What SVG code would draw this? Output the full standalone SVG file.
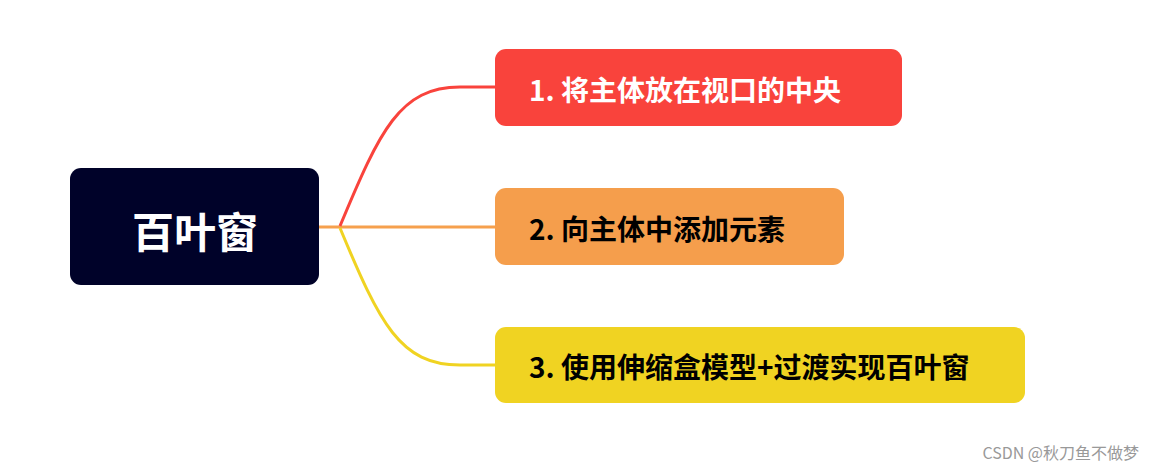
<svg xmlns="http://www.w3.org/2000/svg" width="1154" height="471" viewBox="0 0 1154 471">
<style>
.t{font-family:"Noto Sans CJK SC","Noto Sans",sans-serif;font-weight:bold;font-size:28px;dominant-baseline:central}
.c{fill:none;stroke-width:3}
</style>
<rect width="1154" height="471" fill="#fff"/>
<g id="connectors">
<path class="c" stroke="#F6A04D" d="M319,227 L495,227"/>
<path class="c" stroke="#F9433C" d="M340,226 C380,130 400,87 460,87 L495,87"/>
<path class="c" stroke="#F0D322" d="M340,228 C380,324 400,365 460,365 L495,365"/>
</g>
<g id="root"><rect x="70" y="168" width="249" height="117" rx="11" fill="#000229"/>
<text x="195" y="229" text-anchor="middle" class="t" style="font-size:42px" fill="#fff">百叶窗</text></g>
<g id="n1"><rect x="495" y="49" width="407" height="77" rx="11" fill="#F9433C"/>
<text x="529" y="89" class="t" fill="#fff">1. 将主体放在视口的中央</text></g>
<g id="n2"><rect x="495" y="188" width="349" height="77" rx="11" fill="#F59E4C"/>
<text x="529" y="228" class="t" fill="#000">2. 向主体中添加元素</text></g>
<g id="n3"><rect x="495" y="327" width="530" height="76" rx="11" fill="#F0D322"/>
<text x="529" y="366" class="t" fill="#000">3. 使用伸缩盒模型+过渡实现百叶窗</text></g>
<text x="1139" y="452" text-anchor="end" font-family="Noto Sans CJK SC,sans-serif" font-size="16" fill="#999" dominant-baseline="central">CSDN @秋刀鱼不做梦</text>
</svg>
